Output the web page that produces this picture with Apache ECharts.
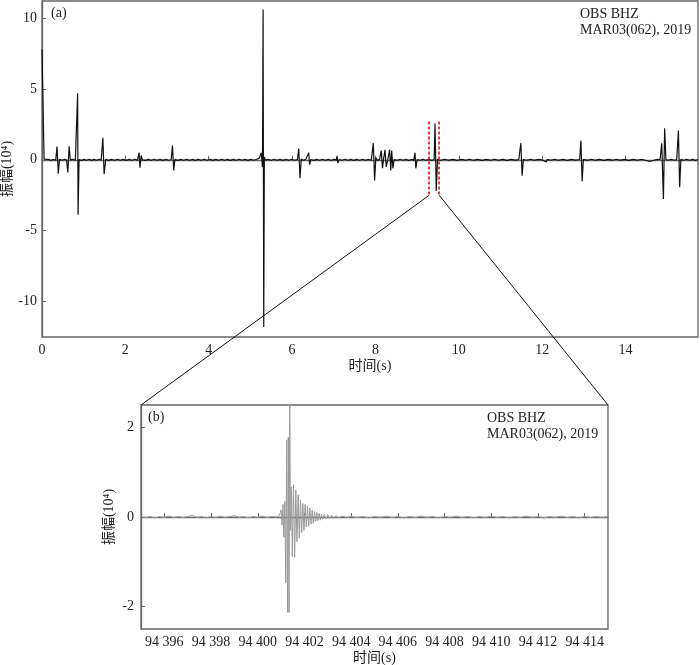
<!DOCTYPE html>
<html>
<head>
<meta charset="utf-8">
<script src="https://cdn.jsdelivr.net/npm/echarts@6/dist/echarts.min.js"></script>
<style>
  html, body { margin: 0; padding: 0; background: #fff; }
  #main { width: 700px; height: 665px; }
</style>
</head>
<body>
<div id="main"></div>
<script>
// (a) 连续记录, [时间, 振幅]
var traceA = [
  [0.00, 7.8], [0.05, 0.05], [0.09, -0.02], [0.15, 0.03], [0.21, -0.04], [0.27, 0.02], [0.33, -0.02],
  [0.36, 0.94], [0.39, -0.99], [0.42, 0.03], [0.48, -0.03], [0.54, 0.04], [0.59, -0.02],
  [0.62, -0.9], [0.65, 0.95], [0.68, 0.0], [0.74, 0.03], [0.80, -0.03],
  [0.855, 4.7], [0.865, -3.87], [0.89, 0.02], [0.95, -0.04], [1.01, 0.03], [1.07, -0.03], [1.13, 0.04],
  [1.19, -0.04], [1.25, 0.03], [1.31, -0.03], [1.37, 0.04], [1.42, -0.02],
  [1.46, 1.55], [1.49, -1.0], [1.53, 0.03], [1.60, -0.04], [1.67, 0.03], [1.74, -0.03], [1.81, 0.04],
  [1.88, -0.03], [1.95, 0.03], [2.02, -0.04], [2.09, 0.03], [2.16, -0.03], [2.23, 0.04], [2.29, -0.02],
  [2.33, 0.5], [2.35, -0.56], [2.38, 0.3], [2.41, 0.0], [2.48, -0.04], [2.55, 0.03], [2.62, -0.03],
  [2.69, 0.04], [2.76, -0.03], [2.83, 0.03], [2.90, -0.04], [2.97, 0.03], [3.04, -0.03], [3.10, 0.02],
  [3.13, 1.0], [3.16, -0.75], [3.19, 0.03], [3.26, -0.04], [3.33, 0.03], [3.40, -0.03], [3.47, 0.04],
  [3.54, -0.03], [3.61, 0.03], [3.68, -0.04], [3.75, 0.03], [3.82, -0.03], [3.89, 0.04], [3.96, -0.03],
  [4.03, 0.03], [4.10, -0.04], [4.17, 0.03], [4.24, -0.03], [4.31, 0.04], [4.38, -0.03], [4.45, 0.03],
  [4.52, -0.04], [4.59, 0.03], [4.66, -0.03], [4.73, 0.04], [4.80, -0.03], [4.87, 0.03], [4.94, -0.04],
  [5.01, 0.03], [5.08, -0.03], [5.15, 0.04], [5.21, 0.1],
  [5.26, 0.5], [5.29, -0.5], [5.305, 10.6], [5.32, -11.8], [5.335, 0.2], [5.36, -0.02], [5.43, 0.03],
  [5.50, -0.03], [5.57, 0.04], [5.64, -0.03], [5.71, 0.03], [5.78, -0.04], [5.85, 0.03], [5.92, -0.03],
  [5.99, 0.04], [6.06, -0.03], [6.13, 0.02],
  [6.16, 0.8], [6.19, -1.3], [6.22, 0.05], [6.27, -0.03], [6.33, 0.03], [6.37, -0.02],
  [6.40, 0.5], [6.42, -0.35], [6.45, 0.02], [6.52, -0.04], [6.59, 0.03], [6.66, -0.03], [6.73, 0.04],
  [6.80, -0.03], [6.87, 0.03], [6.94, -0.04], [7.01, 0.03], [7.06, -0.02],
  [7.08, 0.28], [7.10, -0.23], [7.13, 0.02], [7.20, -0.03], [7.27, 0.04], [7.34, -0.03], [7.41, 0.03],
  [7.48, -0.04], [7.55, 0.03], [7.62, -0.03], [7.69, 0.04], [7.76, -0.03], [7.83, 0.03], [7.90, -0.03],
  [7.95, 1.17], [7.98, -1.46], [8.01, 0.15], [8.05, -0.05], [8.10, 0.03],
  [8.14, 0.66], [8.17, -0.6], [8.20, 0.15], [8.23, 0.7], [8.26, -0.5], [8.30, 0.05], [8.34, 0.7],
  [8.37, -0.75], [8.39, 0.65], [8.42, -0.6], [8.45, 0.02], [8.52, -0.03], [8.59, 0.04], [8.66, -0.03],
  [8.73, 0.03], [8.80, -0.04], [8.87, 0.03], [8.92, -0.02],
  [8.95, 0.5], [8.97, -0.6], [9.00, 0.02], [9.07, -0.03], [9.14, 0.04], [9.21, -0.03], [9.28, 0.03],
  [9.35, -0.04], [9.41, 0.02],
  [9.43, 2.55], [9.46, -2.2], [9.49, 0.03], [9.56, -0.03], [9.66, 0.04], [9.76, -0.03], [9.86, 0.03],
  [9.96, -0.04], [10.06, 0.03], [10.16, -0.03], [10.26, 0.04], [10.36, -0.03], [10.46, 0.03],
  [10.56, -0.04], [10.66, 0.03], [10.76, -0.03], [10.86, 0.04], [10.96, -0.03], [11.06, 0.03],
  [11.16, -0.04], [11.26, 0.03], [11.36, -0.03], [11.44, 0.02],
  [11.49, 1.17], [11.52, -1.13], [11.55, 0.03], [11.62, -0.03], [11.72, 0.04], [11.82, -0.03],
  [11.92, 0.03], [12.02, -0.03], [12.10, -0.15], [12.12, 0.02], [12.20, -0.03], [12.30, 0.04],
  [12.40, -0.03], [12.50, 0.03], [12.60, -0.04], [12.70, 0.03], [12.80, -0.03], [12.90, 0.02],
  [12.93, 1.36], [12.96, -1.52], [12.99, 0.03], [13.08, -0.03], [13.18, 0.04], [13.28, -0.03],
  [13.38, 0.03], [13.48, -0.04], [13.58, 0.03], [13.68, -0.03], [13.78, 0.04], [13.88, -0.03],
  [13.98, 0.03], [14.08, -0.04], [14.18, 0.03], [14.28, -0.03], [14.38, 0.04], [14.48, -0.03],
  [14.58, -0.12], [14.60, 0.02], [14.68, -0.03], [14.76, 0.03], [14.83, 0.02],
  [14.87, 1.17], [14.91, -2.77], [14.94, 2.23], [14.97, 0.02], [15.03, -0.03], [15.10, 0.04],
  [15.17, -0.03], [15.23, 0.02], [15.27, 2.06], [15.30, -1.93], [15.33, 0.03], [15.40, -0.03],
  [15.47, 0.04], [15.54, -0.03], [15.61, 0.03], [15.68, -0.04], [15.74, 0.02]
];

// (b) 放大的事件, [时间, 振幅]
var traceB = [
  [94395.0, 0.01], [94395.2, -0.01], [94395.4, 0.01], [94395.6, -0.02], [94395.8, 0.01],
  [94396.0, -0.01], [94396.2, 0.02], [94396.4, -0.01], [94396.6, 0.01], [94396.8, -0.01],
  [94397.0, 0.01], [94397.2, 0.04], [94397.4, -0.01], [94397.6, 0.01], [94397.8, -0.02],
  [94398.0, 0.01], [94398.2, -0.01], [94398.4, 0.02], [94398.6, -0.01], [94398.8, 0.01],
  [94399.0, 0.03], [94399.2, -0.01], [94399.4, 0.01], [94399.6, -0.02], [94399.8, 0.01],
  [94400.0, -0.01], [94400.2, 0.02], [94400.4, -0.01], [94400.6, 0.01], [94400.8, 0.0],
  [94400.92, 0.03], [94400.97, 0.1], [94401.0, 0.16], [94401.04, -0.18], [94401.08, 0.28],
  [94401.12, -0.45], [94401.16, 0.35], [94401.20, -1.47], [94401.24, 1.72], [94401.28, -2.13],
  [94401.31, 1.78], [94401.34, -2.13], [94401.37, 2.8], [94401.40, -0.3], [94401.44, 0.67],
  [94401.48, -0.88], [94401.53, 0.72], [94401.58, -0.9], [94401.63, 0.6], [94401.68, -0.55],
  [94401.73, 0.5], [94401.78, -0.47], [94401.83, 0.38], [94401.88, -0.35], [94401.93, 0.3],
  [94401.98, -0.3], [94402.03, 0.28], [94402.08, -0.22], [94402.13, 0.24], [94402.18, -0.2],
  [94402.23, 0.2], [94402.28, -0.16], [94402.33, 0.15], [94402.38, -0.14], [94402.43, 0.12],
  [94402.48, -0.1], [94402.53, 0.1], [94402.58, -0.08], [94402.63, 0.08], [94402.68, -0.07],
  [94402.73, 0.07], [94402.78, -0.05], [94402.85, 0.06], [94402.92, -0.04], [94403.0, 0.05],
  [94403.08, -0.03], [94403.16, 0.04], [94403.25, -0.03], [94403.35, 0.03], [94403.45, -0.02],
  [94403.6, 0.02], [94403.8, -0.01], [94404.0, 0.01], [94404.25, -0.01], [94404.5, 0.01],
  [94404.75, -0.02], [94405.0, 0.01], [94405.25, -0.01], [94405.5, 0.02], [94405.75, -0.01],
  [94406.0, 0.01], [94406.25, -0.02], [94406.5, 0.01], [94406.75, -0.01], [94407.0, 0.02],
  [94407.25, -0.01], [94407.5, 0.01], [94407.75, -0.02], [94408.0, 0.01], [94408.25, -0.01],
  [94408.5, 0.02], [94408.75, -0.01], [94409.0, 0.01], [94409.25, -0.02], [94409.5, 0.01],
  [94409.75, -0.01], [94410.0, 0.02], [94410.25, -0.01], [94410.5, 0.01], [94410.75, -0.02],
  [94411.0, 0.01], [94411.25, -0.01], [94411.5, 0.02], [94411.75, -0.01], [94412.0, 0.01],
  [94412.25, -0.02], [94412.5, 0.01], [94412.75, -0.01], [94413.0, 0.02], [94413.25, -0.01],
  [94413.5, 0.01], [94413.75, -0.02], [94414.0, 0.01], [94414.25, -0.01], [94414.5, 0.01],
  [94414.75, -0.01], [94415.0, 0.01]
];

var ticksAY = [-10, -5, 0, 5, 10];
var ticksBX = [94396, 94398, 94400, 94402, 94404, 94406, 94408, 94410, 94412, 94414];
var ticksBY = [-2, 0, 2];
var zoomWin = [9.29, 9.53];     // 红色虚线所在时间
var zoomAmp = [2.7, -2.5];      // 红色虚线上下端

var serif = '"Liberation Serif", "Noto Sans CJK SC", serif';
var axisCol = '#666';

function thinSpace (v) {
  var s = String(Math.round(v));
  return s.length > 3 ? s.slice(0, s.length - 3) + ' ' + s.slice(-3) : s;
}

var baseAxis = {
  nameMoveOverlap: false,
  axisLine: { lineStyle: { color: axisCol, width: 1.3 } },
  axisTick: { inside: true, length: 4, lineStyle: { color: axisCol } },
  axisLabel: { color: '#222', fontFamily: serif, fontSize: 14 },
  splitLine: { show: false },
  nameTextStyle: { color: '#222', fontFamily: serif, fontSize: 14 }
};
function ax (extra) {
  var o = JSON.parse(JSON.stringify(baseAxis));
  for (var k in extra) {
    if (typeof extra[k] === 'object' && !Array.isArray(extra[k]) && o[k]) {
      for (var j in extra[k]) o[k][j] = extra[k][j];
    } else {
      o[k] = extra[k];
    }
  }
  return o;
}

var chart = echarts.init(document.getElementById('main'));

var option = {
  animation: false,
  grid: [
    { left: 42, right: 2, top: 1, height: 336, show: true, borderColor: axisCol, borderWidth: 1.3, outerBoundsMode: 'none', containLabel: false },
    { left: 141, width: 467, top: 405, height: 224, show: true, borderColor: axisCol, borderWidth: 1.3, outerBoundsMode: 'none', containLabel: false }
  ],
  xAxis: [
    ax({ type: 'value', gridIndex: 0, min: 0, max: 15.74, interval: 2,
      name: '时间(s)', nameLocation: 'middle', nameGap: 22,
      axisLabel: { margin: 6, showMaxLabel: false } }),
    ax({ type: 'value', gridIndex: 1, min: 94395, max: 94415,
      name: '时间(s)', nameLocation: 'middle', nameGap: 22,
      axisTick: { customValues: ticksBX },
      axisLabel: { customValues: ticksBX, margin: 6, formatter: thinSpace } })
  ],
  yAxis: [
    ax({ type: 'value', gridIndex: 0, min: -12.5, max: 11.2,
      name: '振幅(10⁴)', nameLocation: 'middle', nameGap: 28,
      axisTick: { customValues: ticksAY },
      axisLabel: { customValues: ticksAY, margin: 5 } }),
    ax({ type: 'value', gridIndex: 1, min: -2.5, max: 2.5,
      name: '振幅(10⁴)', nameLocation: 'middle', nameGap: 25,
      axisTick: { customValues: ticksBY },
      axisLabel: { customValues: ticksBY, margin: 7 } })
  ],
  series: [
    {
      type: 'line', xAxisIndex: 0, yAxisIndex: 0, data: traceA,
      showSymbol: false, clip: true,
      lineStyle: { color: '#111', width: 1.2 },
      markLine: {
        silent: true, symbol: 'none', label: { show: false },
        lineStyle: { color: '#e01010', type: [3, 2], width: 1.6 },
        data: [
          [{ coord: [zoomWin[0], zoomAmp[0]] }, { coord: [zoomWin[0], zoomAmp[1]] }],
          [{ coord: [zoomWin[1], zoomAmp[0]] }, { coord: [zoomWin[1], zoomAmp[1]] }]
        ]
      }
    },
    {
      type: 'line', xAxisIndex: 1, yAxisIndex: 1, data: traceB,
      showSymbol: false, clip: true,
      lineStyle: { color: '#999', width: 1 }
    }
  ]
};
chart.setOption(option);

// 连接线: 从红色虚线底端到 (b) 图的上角
var a0 = chart.convertToPixel({ gridIndex: 0 }, [zoomWin[0], zoomAmp[1]]);
var a1 = chart.convertToPixel({ gridIndex: 0 }, [zoomWin[1], zoomAmp[1]]);
var b0 = chart.convertToPixel({ gridIndex: 1 }, [94395, 2.5]);
var b1 = chart.convertToPixel({ gridIndex: 1 }, [94415, 2.5]);

var txt = { fill: '#222', font: '14px ' + serif };
chart.setOption({
  graphic: [
    { type: 'line', shape: { x1: a0[0], y1: a0[1], x2: b0[0], y2: b0[1] }, style: { stroke: '#111', lineWidth: 1 } },
    { type: 'line', shape: { x1: a1[0], y1: a1[1], x2: b1[0], y2: b1[1] }, style: { stroke: '#111', lineWidth: 1 } },
    { type: 'text', left: 51, top: 6, style: Object.assign({ text: '(a)' }, txt) },
    { type: 'text', left: 580, top: 6, style: Object.assign({ text: 'OBS BHZ\nMAR03(062), 2019', lineHeight: 16 }, txt) },
    { type: 'text', left: 148, top: 410, style: Object.assign({ text: '(b)' }, txt) },
    { type: 'text', left: 487, top: 410, style: Object.assign({ text: 'OBS BHZ\nMAR03(062), 2019', lineHeight: 16 }, txt) }
  ]
});
</script>
</body>
</html>
